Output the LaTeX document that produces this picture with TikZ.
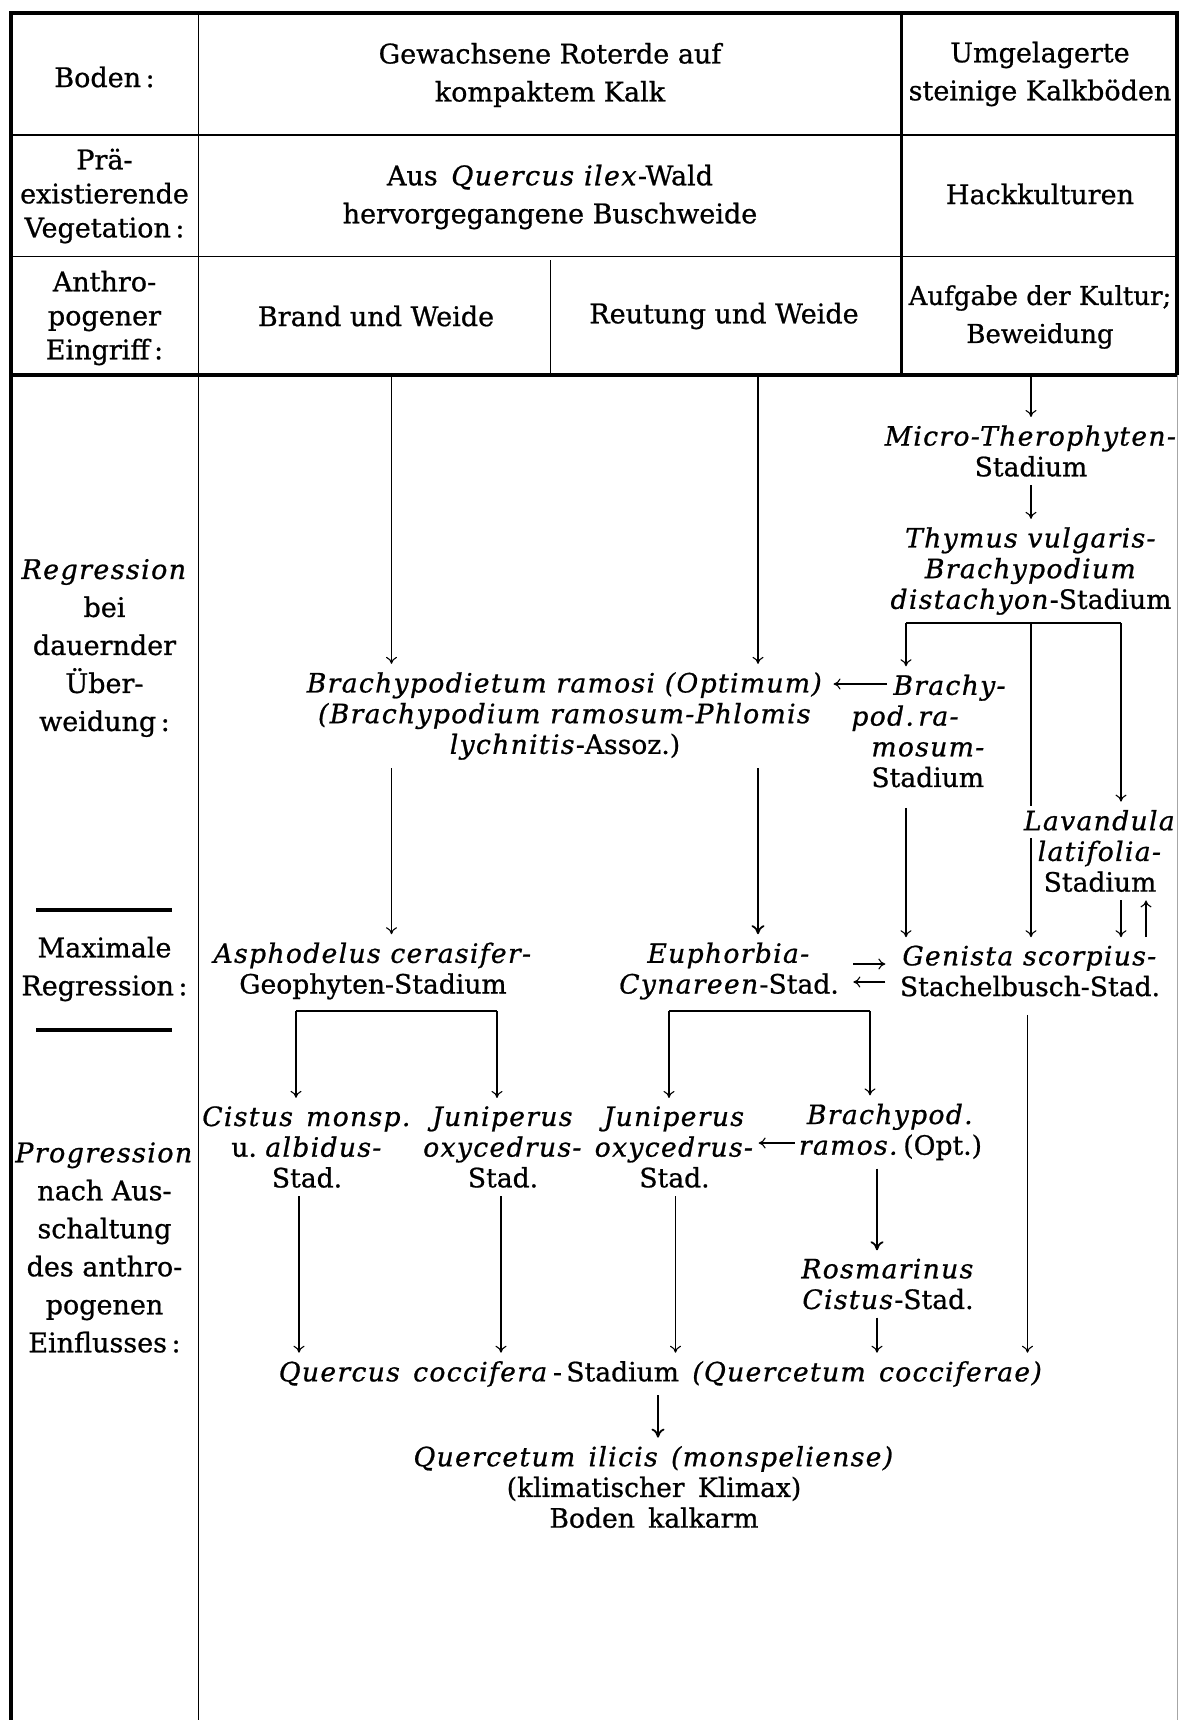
\documentclass[tikz,border=0pt]{standalone}
\usepackage{fontspec}
\setmainfont{DejaVu Serif}[FakeBold=0.8,ItalicFeatures={FakeBold=0.8,LetterSpace=5}]
\usetikzlibrary{arrows.meta,calc}
\begin{document}
\begin{tikzpicture}[x=0.5pt,y=-0.5pt,
  txt/.style={inner xsep=2pt,inner ysep=4pt,align=center,font=\fontsize{13.3}{15.35}\selectfont},
  hd/.style={inner sep=2pt,align=center,font=\fontsize{13.5}{19}\selectfont},
  hdl/.style={inner sep=2pt,align=center,font=\fontsize{13.5}{17}\selectfont},
  arr/.style={line width=0.55pt,-{To[length=3.5pt,width=5.5pt]}},
  barr/.style={line width=0.9pt,-{To[length=4.5pt,width=6.5pt,line width=0.9pt]}},
  ln/.style={line width=0.55pt},
  thickln/.style={line width=1.6pt},
  rule/.style={line width=0.7pt},
]
\useasboundingbox (0,0) rectangle (1180,1720);
\fill[white] (0,0) rectangle (1180,1720);

% ---------- frame and table ----------
\draw[thickln] (11,1720) -- (11,13) -- (1177,13) -- (1177,375);
\draw[line width=0.4pt,black!35] (1177,375) -- (1177,1720);
\draw[ln] (198.5,13) -- (198.5,1720);
\draw[line width=1.3pt] (901.5,13) -- (901.5,375);
\draw[rule] (11,135) -- (1177,135);
\draw[rule] (11,256.5) -- (1177,256.5);
\draw[ln] (550.5,260) -- (550.5,373);
\draw[thickln] (11,375) -- (1177,375);
\draw[thickln] (36,910) -- (172,910);
\draw[thickln] (36,1030) -- (172,1030);

% ---------- header texts ----------
\node[hd] (hBoden) at (104.5,77) {Boden\,:};
\node[hd] (hGew) at (550,75) {Gewachsene Roterde auf\\kompaktem Kalk};
\node[hd] (hUmg) at (1040,74) {Umgelagerte\\steinige Kalkböden};
\node[hdl] (hPrae) at (104.5,196) {Prä-\\existierende\\Vegetation\,:};
\node[hd] (hAus) at (550,197) {Aus\enspace\textit{Quercus ilex}-Wald\\hervorgegangene Buschweide};
\node[hd] (hHack) at (1040,194) {Hackkulturen};
\node[hdl] (hAnth) at (104.5,318) {Anthro-\\pogener\\Eingriff\,:};
\node[hd] (hBrand) at (376,316) {Brand und Weide};
\node[hd] (hReut) at (724,316) {Reutung und Weide};
\node[hd,font=\fontsize{13}{19}\selectfont] (hAufg) at (1040,317) {Aufgabe der Kultur;\\Beweidung};

% ---------- left column labels ----------
\node[hd] (lReg) at (104.5,648) {\textit{Regression}\\bei\\dauernder\\Über-\\weidung\,:};
\node[hd] (lMax) at (104.5,969) {Maximale\\Regression\,:};
\node[hd] (lProg) at (104.5,1247.5) {\textit{Progression}\\nach Aus-\\schaltung\\des anthro-\\pogenen\\Einflusses\,:};

% ---------- body nodes ----------
\node[txt] (nMicro) at (1031,451) {\textit{Micro-Therophyten-}\\Stadium};
\node[txt] (nThym) at (1031,571) {\textit{Thymus vulgaris-}\\\textit{Brachypodium}\\\textit{distachyon}-Stadium};
\node[txt] (nBrR) at (565,716) {\textit{Brachypodietum ramosi (Optimum)}\\\textit{(Brachypodium ramosum-Phlomis}\\\textit{lychnitis}-Assoz.)};
\node[txt,align=left,anchor=west] (nBpod) at (847,731) {\hspace*{21pt}\textit{Brachy-}\\\textit{pod.\,ra-}\\\hspace*{10pt}\textit{mosum-}\\\hspace*{10pt}Stadium};
\node[txt] (nLav) at (1100,851) {\textit{Lavandula}\\\textit{latifolia-}\\Stadium};
\node[txt] (nAsph) at (373,971) {\textit{Asphodelus cerasifer-}\\Geophyten-Stadium};
\node[txt] (nEuph) at (729,971) {\textit{Euphorbia-}\\\textit{Cynareen}-Stad.};
\node[txt] (nGen) at (1030,971) {\textit{Genista scorpius-}\\Stachelbusch-Stad.};
\node[txt] (nCist) at (307,1147) {\textit{Cistus\enspace monsp.}\\u.~\textit{albidus-}\\Stad.};
\node[txt] (nJun1) at (503,1147) {\textit{Juniperus}\\\textit{oxycedrus-}\\Stad.};
\node[txt] (nJun2) at (674.5,1147) {\textit{Juniperus}\\\textit{oxycedrus-}\\Stad.};
\node[txt] (nBram) at (890.5,1132) {\textit{Brachypod.}\\\textit{ramos.}\,(Opt.)};
\node[txt] (nRosm) at (888,1284) {\textit{Rosmarinus}\\\textit{Cistus}-Stad.};
\node[txt] (nQcoc) at (661,1374) {\textit{Quercus\enspace coccifera}\,-\,Stadium\enspace\textit{(Quercetum\enspace cocciferae)}};
\node[txt] (nQil) at (654,1487) {\textit{Quercetum\enspace ilicis\enspace (monspeliense)}\\(klimatischer\enspace Klimax)\\Boden\enspace kalkarm};

% ---------- helper coordinates ----------
\coordinate (hb) at (0,375);
\coordinate (tb) at (0,623);
\coordinate (ab) at (0,1011);
\coordinate (ybr) at (0,1143);
\coordinate (xA) at (391.5,0);
\coordinate (xB) at (758,0);
\coordinate (xC) at (906,0);
\coordinate (xD) at (1031,0);
\coordinate (xE) at (1121,0);
\coordinate (xF) at (1146,0);
\coordinate (xG) at (296,0);
\coordinate (xH) at (497,0);
\coordinate (xI) at (669,0);
\coordinate (xJ) at (870,0);
\coordinate (xK) at (1027.5,0);
\coordinate (xL) at (299,0);
\coordinate (xM) at (501,0);
\coordinate (xN) at (675.5,0);
\coordinate (xO) at (877,0);
\coordinate (xP) at (658,0);
\coordinate (lg1) at (1031,806);
\coordinate (lg2) at (1031,838);
\coordinate (bpArr) at (887,684);
\coordinate (eg) at ($(nEuph.east)!0.5!(nGen.west)$);

% ---------- connectors: regression ----------
\draw[arr] (hb -| xA) -- (nBrR.north -| xA);
\draw[arr] (hb -| xB) -- (nBrR.north -| xB);
\draw[arr] (hb -| nMicro) -- (nMicro.north);
\draw[arr] (nMicro.south) -- (nThym.north);
\draw[ln] (tb -| xC) -- (tb -| xE);
\draw[arr] (tb -| xC) -- (nBpod.north -| xC);
\draw[arr] (tb -| xE) -- (nLav.north -| xE);
\draw[ln] (tb -| xD) -- (lg1);
\draw[arr] (lg2) -- (nGen.north -| xD);
\draw[arr,shorten >=3pt] (bpArr) -- (nBrR.east |- bpArr);
\draw[arr] (nBrR.south -| xA) -- (nAsph.north -| xA);
\draw[barr] (nBrR.south -| xB) -- (nEuph.north -| xB);
\draw[arr,shorten <=6pt] (nBpod.south -| xC) -- (nGen.north -| xC);
\draw[arr] (nLav.south -| xE) -- (nGen.north -| xE);
\draw[arr] (nGen.north -| xF) -- (nLav.south -| xF);
\draw[arr] ([xshift=-8pt,yshift=3.5pt]eg) -- ([xshift=8pt,yshift=3.5pt]eg);
\draw[arr] ([xshift=8pt,yshift=-5.5pt]eg) -- ([xshift=-8pt,yshift=-5.5pt]eg);

% ---------- connectors: progression ----------
\draw[ln] (ab -| xG) -- (ab -| xH);
\draw[arr] (ab -| xG) -- (nCist.north -| xG);
\draw[arr] (ab -| xH) -- (nJun1.north -| xH);
\draw[ln] (ab -| xI) -- (ab -| xJ);
\draw[arr] (ab -| xI) -- (nJun2.north -| xI);
\draw[arr] (ab -| xJ) -- (nBram.north -| xJ);
\draw[arr] (nBram.west |- ybr) -- (nJun2.east |- ybr);
\draw[barr] (nBram.south -| xO) -- (nRosm.north -| xO);
\draw[arr] (nCist.south -| xL) -- (nQcoc.north -| xL);
\draw[arr] (nJun1.south -| xM) -- (nQcoc.north -| xM);
\draw[arr] (nJun2.south -| xN) -- (nQcoc.north -| xN);
\draw[arr] (nRosm.south -| xO) -- (nQcoc.north -| xO);
\draw[arr,shorten <=5pt] (nGen.south -| xK) -- (nQcoc.north -| xK);
\draw[barr] (nQcoc.south -| xP) -- (nQil.north -| xP);
\end{tikzpicture}
\end{document}
